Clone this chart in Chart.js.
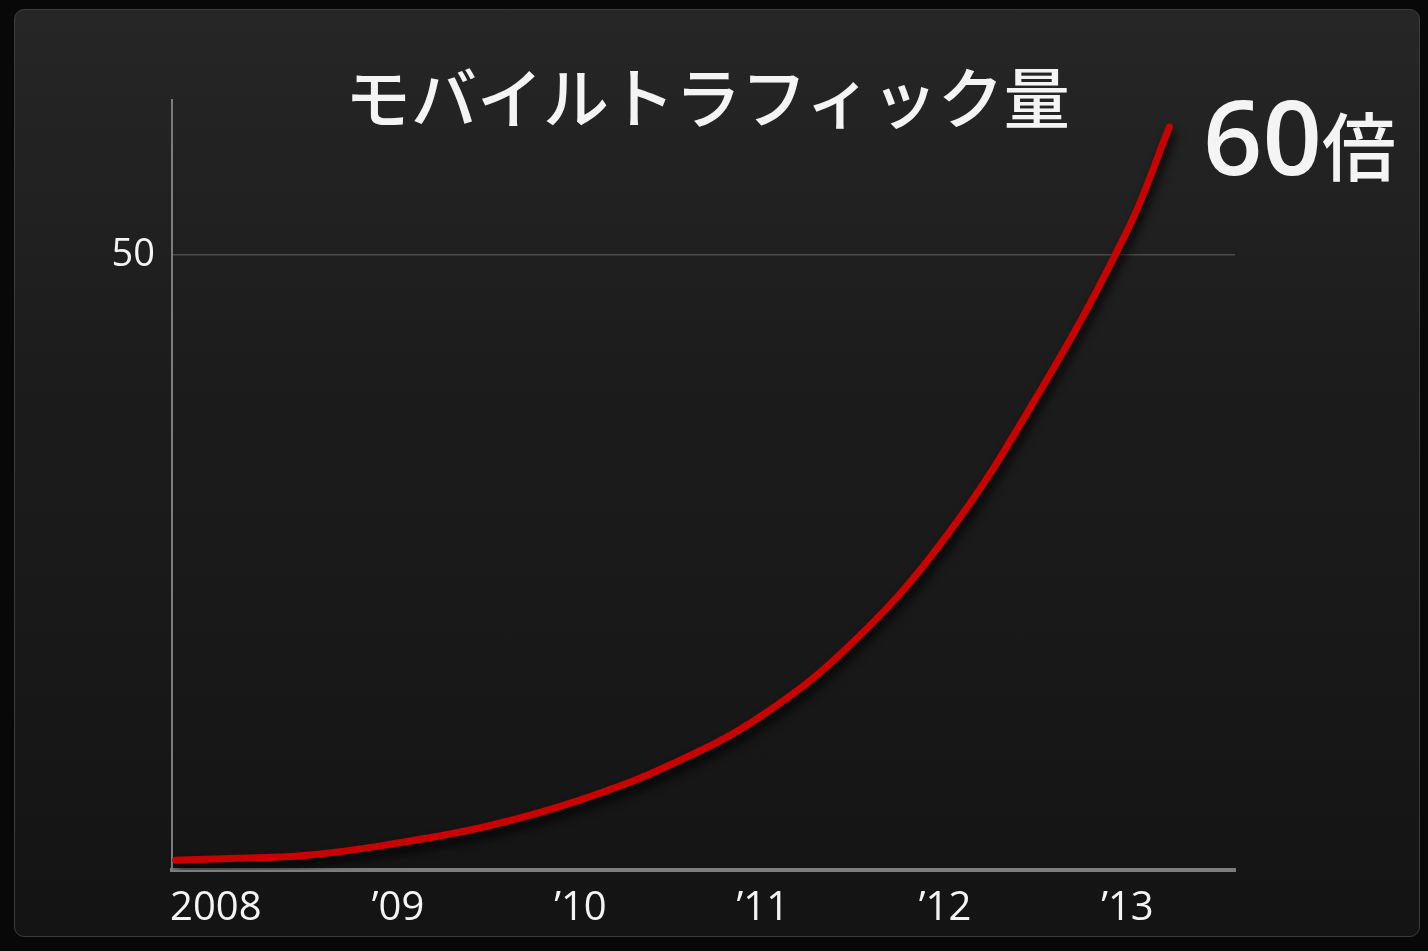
<!DOCTYPE html>
<html lang="ja">
<head>
<meta charset="utf-8">
<title>モバイルトラフィック量</title>
<script src="https://cdn.jsdelivr.net/npm/chart.js@4"></script>
<style>
  html, body { margin: 0; padding: 0; width: 1428px; height: 951px; background: #080808; overflow: hidden; }
  #panel {
    position: absolute; left: 14px; top: 9px; width: 1404px; height: 926px;
    border: 1px solid #3c3c3c; border-radius: 10px;
    background: linear-gradient(#262626, #1c1c1c 40%, #141414);
  }
  #wrap { position: absolute; left: 0; top: 0; width: 1428px; height: 951px; }
  .txt { position: absolute; color: #f4f4f4; white-space: nowrap; font-family: "Noto Sans CJK JP", "Open Sans", sans-serif; }
  #title { left: 345px; top: 46px; font-size: 66px; font-weight: 500; }
  #times { left: 1203px; top: 64px; font-weight: 500; }
  #times .num { font-family: "Open Sans", sans-serif; font-size: 104px; font-weight: 600; }
  #times .kanji { font-size: 74px; }
</style>
</head>
<body>
<div id="panel"></div>
<div id="wrap"><canvas id="grafico" width="1428" height="951"></canvas></div>
<div class="txt" id="title">モバイルトラフィック量</div>
<div class="txt" id="times"><span class="num">60</span><span class="kanji">倍</span></div>
<script>
// Etichette dell'asse x (una per anno)
const tickLabels = ['2008', '\u201909', '\u201910', '\u201911', '\u201912', '\u201913'];
const tickPos = [0, 1, 2, 3, 4, 5];

// Punti (anni dal 2008, volume relativo)
const anni = [-0.22, 0, 0.5, 1, 1.5, 2, 2.5, 3, 3.5, 4, 4.5, 5, 5.23];
const traffico = [0.8, 0.9, 1.2, 2.2, 3.6, 5.7, 8.6, 12.6, 18.6, 27.0, 38.4, 52, 60.4];

const yTicks = [50];

// ombra scura sotto la linea rossa
const ombra = {
    id: 'ombra',
    beforeDatasetsDraw(chart) {
        const ctx = chart.ctx;
        ctx.save();
        ctx.shadowColor = 'rgba(0, 0, 0, 0.85)';
        ctx.shadowBlur = 10;
        ctx.shadowOffsetX = 3;
        ctx.shadowOffsetY = 7;
    },
    afterDatasetsDraw(chart) {
        chart.ctx.restore();
    }
};

const ctx = document.getElementById('grafico').getContext('2d');
new Chart(ctx, {
    type: 'line',
    data: {
        datasets: [{
            data: anni.map((x, i) => ({ x: x, y: traffico[i] })),
            borderColor: '#c80000',
            borderWidth: 7,
            borderCapStyle: 'round',
            tension: 0.4,
            pointRadius: 0,
            fill: false
        }]
    },
    plugins: [ombra],
    options: {
        responsive: false,
        animation: false,
        layout: { padding: { top: 100, right: 193, left: 0, bottom: 0 } },
        plugins: {
            legend: { display: false },
            tooltip: { enabled: false }
        },
        scales: {
            x: {
                type: 'linear',
                min: -0.24,
                max: 5.59,
                afterBuildTicks: scale => { scale.ticks = tickPos.map(v => ({ value: v })); },
                afterFit: scale => { scale.height = 81; },
                ticks: {
                    callback: (v) => tickLabels[tickPos.indexOf(v)] ?? '',
                    color: '#f4f4f4',
                    font: { family: 'Open Sans', size: 40 },
                    padding: 15,
                    maxRotation: 0,
                    autoSkip: false
                },
                grid: { display: false, drawTicks: false },
                border: { display: true, color: '#7c7c7c', width: 4 }
            },
            y: {
                min: 0,
                max: 62.6,
                afterBuildTicks: scale => { scale.ticks = yTicks.map(v => ({ value: v })); },
                afterFit: scale => { scale.width = 172; },
                ticks: {
                    color: '#f4f4f4',
                    font: { family: 'Open Sans', size: 38 },
                    padding: 17
                },
                grid: { color: '#4a4a4a', lineWidth: 1.5, drawTicks: false },
                border: { display: true, color: '#7c7c7c', width: 2 }
            }
        }
    }
});
</script>
</body>
</html>
